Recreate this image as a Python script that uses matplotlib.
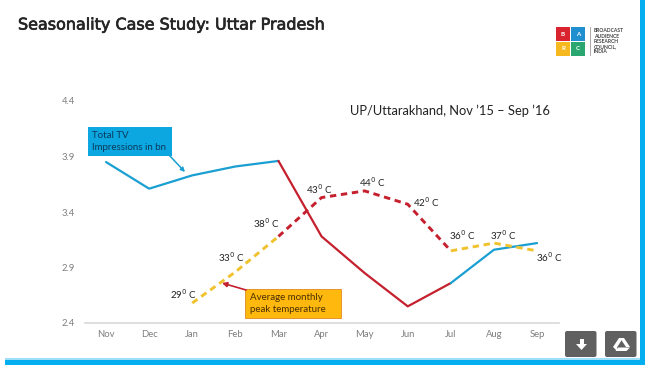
#!/usr/bin/env python3

import matplotlib
matplotlib.use('Agg')
import matplotlib.pyplot as plt
import matplotlib.patheffects as pe
from matplotlib.patches import Rectangle, FancyBboxPatch, Polygon

W, H = 648, 369

months = ['Nov', 'Dec', 'Jan', 'Feb', 'Mar', 'Apr', 'May', 'Jun', 'Jul', 'Aug', 'Sep']
y_ticks = [2.4, 2.9, 3.4, 3.9, 4.4]

# total tv impressions, bn
impressions = [3.85, 3.61, 3.73, 3.81, 3.86, 3.18, 2.85, 2.55, 2.76, 3.06, 3.12]

# average monthly peak temperature, drawn on the same scale, starts in Jan
temp_months = months[2:]
temp_pos = [2.58, 2.86, 3.18, 3.53, 3.59, 3.47, 3.05, 3.12, 3.05]
temp_labels = ['29', '33', '38', '43', '44', '42', '36', '37', '36']

BLUE = '#1a9fd2'
RED = '#c5202e'
YELLOW = '#f0c22e'
BAR = '#04aeef'
FONT = 'Lato'

plt.rcParams['font.family'] = [FONT, 'DejaVu Sans']

fig = plt.figure(figsize=(W / 100, H / 100), dpi=100)

# page furniture
bg = fig.add_axes([0, 0, 1, 1])
bg.set_xlim(0, W)
bg.set_ylim(H, 0)
bg.axis('off')
bg.add_patch(Rectangle((5, 358), 640, 1.5, color='#9fe0f8', lw=0))
bg.add_patch(Rectangle((5, 359.5), 640, 5.5, color=BAR, lw=0))
bg.add_patch(Rectangle((639.5, 0), 5.5, 365, color=BAR, lw=0))

# logo
for (x, y, c, t) in [(556, 27, '#d9232e', 'B'), (571, 27, '#1f8fd0', 'A'),
                     (556, 42, '#f5b81f', 'R'), (571, 42, '#2aa771', 'C')]:
    bg.add_patch(Rectangle((x, y), 14, 14, color=c, lw=0))
    bg.text(x + 7, y + 7, t, color='white', fontsize=4.5, fontweight='bold', ha='center', va='center')
bg.plot([590, 590], [27, 55], color='#888888', lw=0.5)
for i, t in enumerate(['BROADCAST', 'AUDIENCE', 'RESEARCH', 'COUNCIL,', 'INDIA']):
    bg.text(594, 31 + i * 5.2, t, color='#444444', fontsize=3.6, fontweight='bold', va='center')

# buttons
for x in [565, 605]:
    bg.add_patch(FancyBboxPatch((x, 331), 31.5, 26, boxstyle='round,pad=0,rounding_size=2',
                                color='#606060', lw=0))
bg.add_patch(Polygon([(576, 344), (587, 344), (581.5, 350)], color='white', lw=0))
bg.add_patch(Rectangle((579.5, 339), 4, 6, color='white', lw=0))
bg.add_patch(Polygon([(613, 347), (619, 338), (623, 338), (617, 347.5), (617, 351)], color='white', lw=0))
bg.add_patch(Polygon([(620, 338), (624, 338), (630, 347), (626, 347)], color='white', lw=0))
bg.add_patch(Polygon([(615.5, 351), (626.5, 351), (630, 347.5), (618, 347.5)], color='white', lw=0))

title = bg.text(18, 25, 'Seasonality Case Study: Uttar Pradesh', fontsize=11.5, family='DejaVu Sans',
                color='#262626', va='center')
title.set_path_effects([pe.withStroke(linewidth=0.5, foreground='#262626')])
bg.text(350, 111, 'UP/Uttarakhand, Nov \u201915 \u2013 Sep \u201916', fontsize=9.3, color='#222222', va='center')

# chart axes, placed so that the ticks land on the slide's pixels
left, right = 84.5, 558.6
top, bottom = 101, 323
ax = fig.add_axes([left / W, 1 - bottom / H, (right - left) / W, (bottom - top) / H])
ax.patch.set_alpha(0)
x = list(range(len(months)))
ax.set_xlim(-0.5, 10.5)
ax.set_ylim(2.4, 4.4)
ax.set_xticks(x, months)
ax.set_yticks(y_ticks, ['%.1f' % v for v in y_ticks])
ax.tick_params(length=0, labelsize=6.8, labelcolor='#7f7f7f')
ax.tick_params(axis='x', pad=5)
ax.tick_params(axis='y', pad=7)
for side in ['top', 'left', 'right']:
    ax.spines[side].set_visible(False)
ax.spines['bottom'].set_color('#d9d9d9')
ax.spines['bottom'].set_linewidth(1.2)

ax.plot(x[:5], impressions[:5], color=BLUE, lw=1.6, solid_capstyle='round')
ax.plot(x[4:9], impressions[4:9], color=RED, lw=1.6, solid_capstyle='round')
ax.plot(x[8:], impressions[8:], color=BLUE, lw=1.6, solid_capstyle='round')

t_x = [months.index(m) for m in temp_months]
dash = (0, (2.2, 1.6))
ax.plot(t_x[:3], temp_pos[:3], color=YELLOW, lw=2.1, ls=dash)
ax.plot(t_x[2:7], temp_pos[2:7], color=RED, lw=2.1, ls=dash)
ax.plot(t_x[6:], temp_pos[6:], color=YELLOW, lw=2.1, ls=dash)

# temperature labels, offsets in pixels from the point
offsets = [(-9, 9), (-4, 15), (-12, 13), (-2, 8), (8, 9), (19, 2), (12, 16), (9, 8), (12, -6)]
for xi, v, lab, off in zip(t_x, temp_pos, temp_labels, offsets):
    ax.annotate(lab + '$^{0}$ C', (xi, v), xytext=off, textcoords='offset pixels',
                fontsize=7, color='#222222', ha='center', va='center',
                math_fontfamily='dejavusans')

# callouts
fg = fig.add_axes([0, 0, 1, 1])
fg.set_xlim(0, W)
fg.set_ylim(H, 0)
fg.axis('off')
fg.add_patch(Rectangle((88, 127), 84, 29, color='#0ca6e0', lw=0))
fg.text(92, 135.5, 'Total TV', fontsize=7, color='#0b3a5c', va='center')
fg.text(92, 148, 'Impressions in bn', fontsize=7, color='#0b3a5c', va='center')
fg.annotate('', xy=(185, 172), xytext=(169, 155),
            arrowprops=dict(arrowstyle='-|>', color=BLUE, lw=1.1, mutation_scale=6, shrinkA=0, shrinkB=0))

fg.add_patch(Rectangle((245, 289), 96, 29, facecolor='#ffb80d', edgecolor='#e08a1e', lw=0.6))
fg.text(250, 297.5, 'Average monthly', fontsize=7, color='#4a3000', va='center')
fg.text(250, 310, 'peak temperature', fontsize=7, color='#4a3000', va='center')
fg.annotate('', xy=(222, 283), xytext=(246, 290),
            arrowprops=dict(arrowstyle='-|>', color=RED, lw=1.2, mutation_scale=7, shrinkA=0, shrinkB=0))

fig.savefig('out.png', dpi=100)
